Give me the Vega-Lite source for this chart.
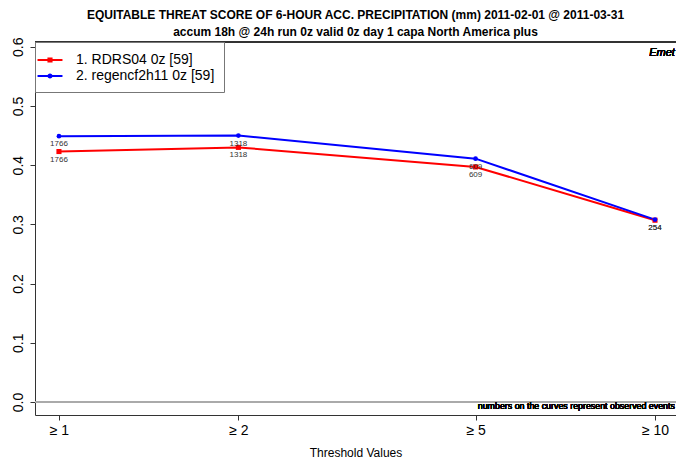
{
  "$schema": "https://vega.github.io/schema/vega-lite/v6.json",
  "width": 641,
  "height": 373,
  "autosize": "none",
  "padding": {"left": 35, "top": 42, "right": 0, "bottom": 48},
  "background": "white",
  "config": {
    "font": "Liberation Sans",
    "view": {"stroke": null},
    "axis": {"grid": false, "domainColor": "#333", "tickColor": "#333", "labelColor": "#000", "titleColor": "#000", "labelFont": "Liberation Sans", "titleFont": "Liberation Sans"},
    "legend": {
      "title": null,
      "orient": "top-left",
      "offset": 0,
      "padding": 9,
      "strokeColor": "#777",
      "fillColor": "white",
      "labelFontSize": 14,
      "labelFont": "Liberation Sans",
      "labelColor": "#000",
      "labelOffset": 17,
      "symbolOffset": -3,
      "symbolSize": 243,
      "symbolStrokeWidth": 2,
      "symbolOpacity": 1,
      "rowPadding": 0,
      "labelLimit": 400
    }
  },
  "title": {
    "text": "EQUITABLE THREAT SCORE OF 6-HOUR ACC. PRECIPITATION (mm) 2011-02-01 @ 2011-03-31",
    "subtitle": "accum 18h @ 24h run 0z valid 0z day 1 capa North America plus",
    "anchor": "middle",
    "frame": "group",
    "fontSize": 12,
    "fontWeight": "bold",
    "subtitleFontSize": 12,
    "subtitleFontWeight": "bold",
    "subtitleColor": "#000",
    "color": "#000",
    "font": "Liberation Sans",
    "subtitleFont": "Liberation Sans",
    "subtitlePadding": 5,
    "offset": -2
  },
  "data": {
    "values": [
      {"model": "1. RDRS04 0z [59]", "thr": 1, "ets": 0.423, "events": 1766},
      {"model": "1. RDRS04 0z [59]", "thr": 2, "ets": 0.430, "events": 1318},
      {"model": "1. RDRS04 0z [59]", "thr": 5, "ets": 0.397, "events": 609},
      {"model": "1. RDRS04 0z [59]", "thr": 10, "ets": 0.307, "events": 254},
      {"model": "2. regencf2h11 0z [59]", "thr": 1, "ets": 0.449, "events": 1766},
      {"model": "2. regencf2h11 0z [59]", "thr": 2, "ets": 0.450, "events": 1318},
      {"model": "2. regencf2h11 0z [59]", "thr": 5, "ets": 0.411, "events": 609},
      {"model": "2. regencf2h11 0z [59]", "thr": 10, "ets": 0.308, "events": 254}
    ]
  },
  "encoding": {
    "x": {
      "field": "thr",
      "type": "quantitative",
      "scale": {"type": "log", "domain": [0.9116, 10.845], "nice": false, "zero": false},
      "axis": {
        "values": [1, 2, 5, 10],
        "labelExpr": "'≥ ' + datum.value",
        "labelFontSize": 14,
        "labelPadding": 3,
        "tickSize": 5,
        "title": "Threshold Values",
        "titleFontSize": 12,
        "titleFontWeight": "normal",
        "titlePadding": 10
      }
    },
    "y": {
      "field": "ets",
      "type": "quantitative",
      "scale": {"domain": [-0.022, 0.608], "nice": false, "zero": false},
      "axis": {
        "values": [0, 0.1, 0.2, 0.3, 0.4, 0.5, 0.6],
        "format": ".1f",
        "labelAngle": -90,
        "labelFontSize": 14,
        "labelPadding": 5,
        "tickSize": 5,
        "title": null
      }
    },
    "color": {
      "field": "model",
      "type": "nominal",
      "scale": {"domain": ["1. RDRS04 0z [59]", "2. regencf2h11 0z [59]"], "range": ["#FF0000", "#0000FF"]}
    }
  },
  "layer": [
    {
      "mark": {"type": "rule", "color": "#aaaaaa", "strokeWidth": 1},
      "encoding": {"x": null, "y": {"datum": 0}, "color": null}
    },
    {
      "mark": {"type": "rule", "color": "#333", "strokeWidth": 1},
      "encoding": {"x": null, "y": {"datum": 0.608}, "color": null}
    },
    {
      "mark": {"type": "line", "strokeWidth": 2}
    },
    {
      "transform": [{"filter": "datum.model === '1. RDRS04 0z [59]'"}],
      "mark": {"type": "square", "opacity": 1, "size": 26}
    },
    {
      "transform": [{"filter": "datum.model === '2. regencf2h11 0z [59]'"}],
      "mark": {"type": "circle", "opacity": 1, "size": 22}
    },
    {
      "mark": {"type": "point", "filled": false, "opacity": 0, "strokeWidth": 2},
      "encoding": {
        "shape": {
          "field": "model",
          "type": "nominal",
          "scale": {
            "domain": ["1. RDRS04 0z [59]", "2. regencf2h11 0z [59]"],
            "range": ["M-1.6,0H1.6M-0.2,-0.2H0.2V0.2H-0.2Z", "M-1.6,0H1.6M0.2,0A0.2,0.2,0,1,1,-0.2,0A0.2,0.2,0,1,1,0.2,0Z"]
          }
        }
      }
    },
    {
      "mark": {"type": "text", "fontSize": 8, "color": "#333", "dy": 8, "baseline": "middle", "font": "Liberation Sans", "fontWeight": "normal"},
      "encoding": {"text": {"field": "events", "type": "quantitative"}, "color": null}
    },
    {
      "mark": {"type": "text", "fontSize": 11, "fontStyle": "italic", "fontWeight": "normal", "align": "right", "baseline": "middle", "color": "#000", "font": "Liberation Sans"},
      "encoding": {"x": {"datum": 10.8}, "y": {"datum": 0.589}, "text": {"value": "Emet"}, "color": null}
    },
    {
      "mark": {"type": "text", "fontSize": 8.85, "fontWeight": "normal", "align": "right", "baseline": "middle", "color": "#000", "font": "Liberation Sans"},
      "encoding": {"x": {"datum": 10.8}, "y": {"datum": -0.006}, "text": {"value": "numbers on the curves represent observed events"}, "color": null}
    }
  ]
}
